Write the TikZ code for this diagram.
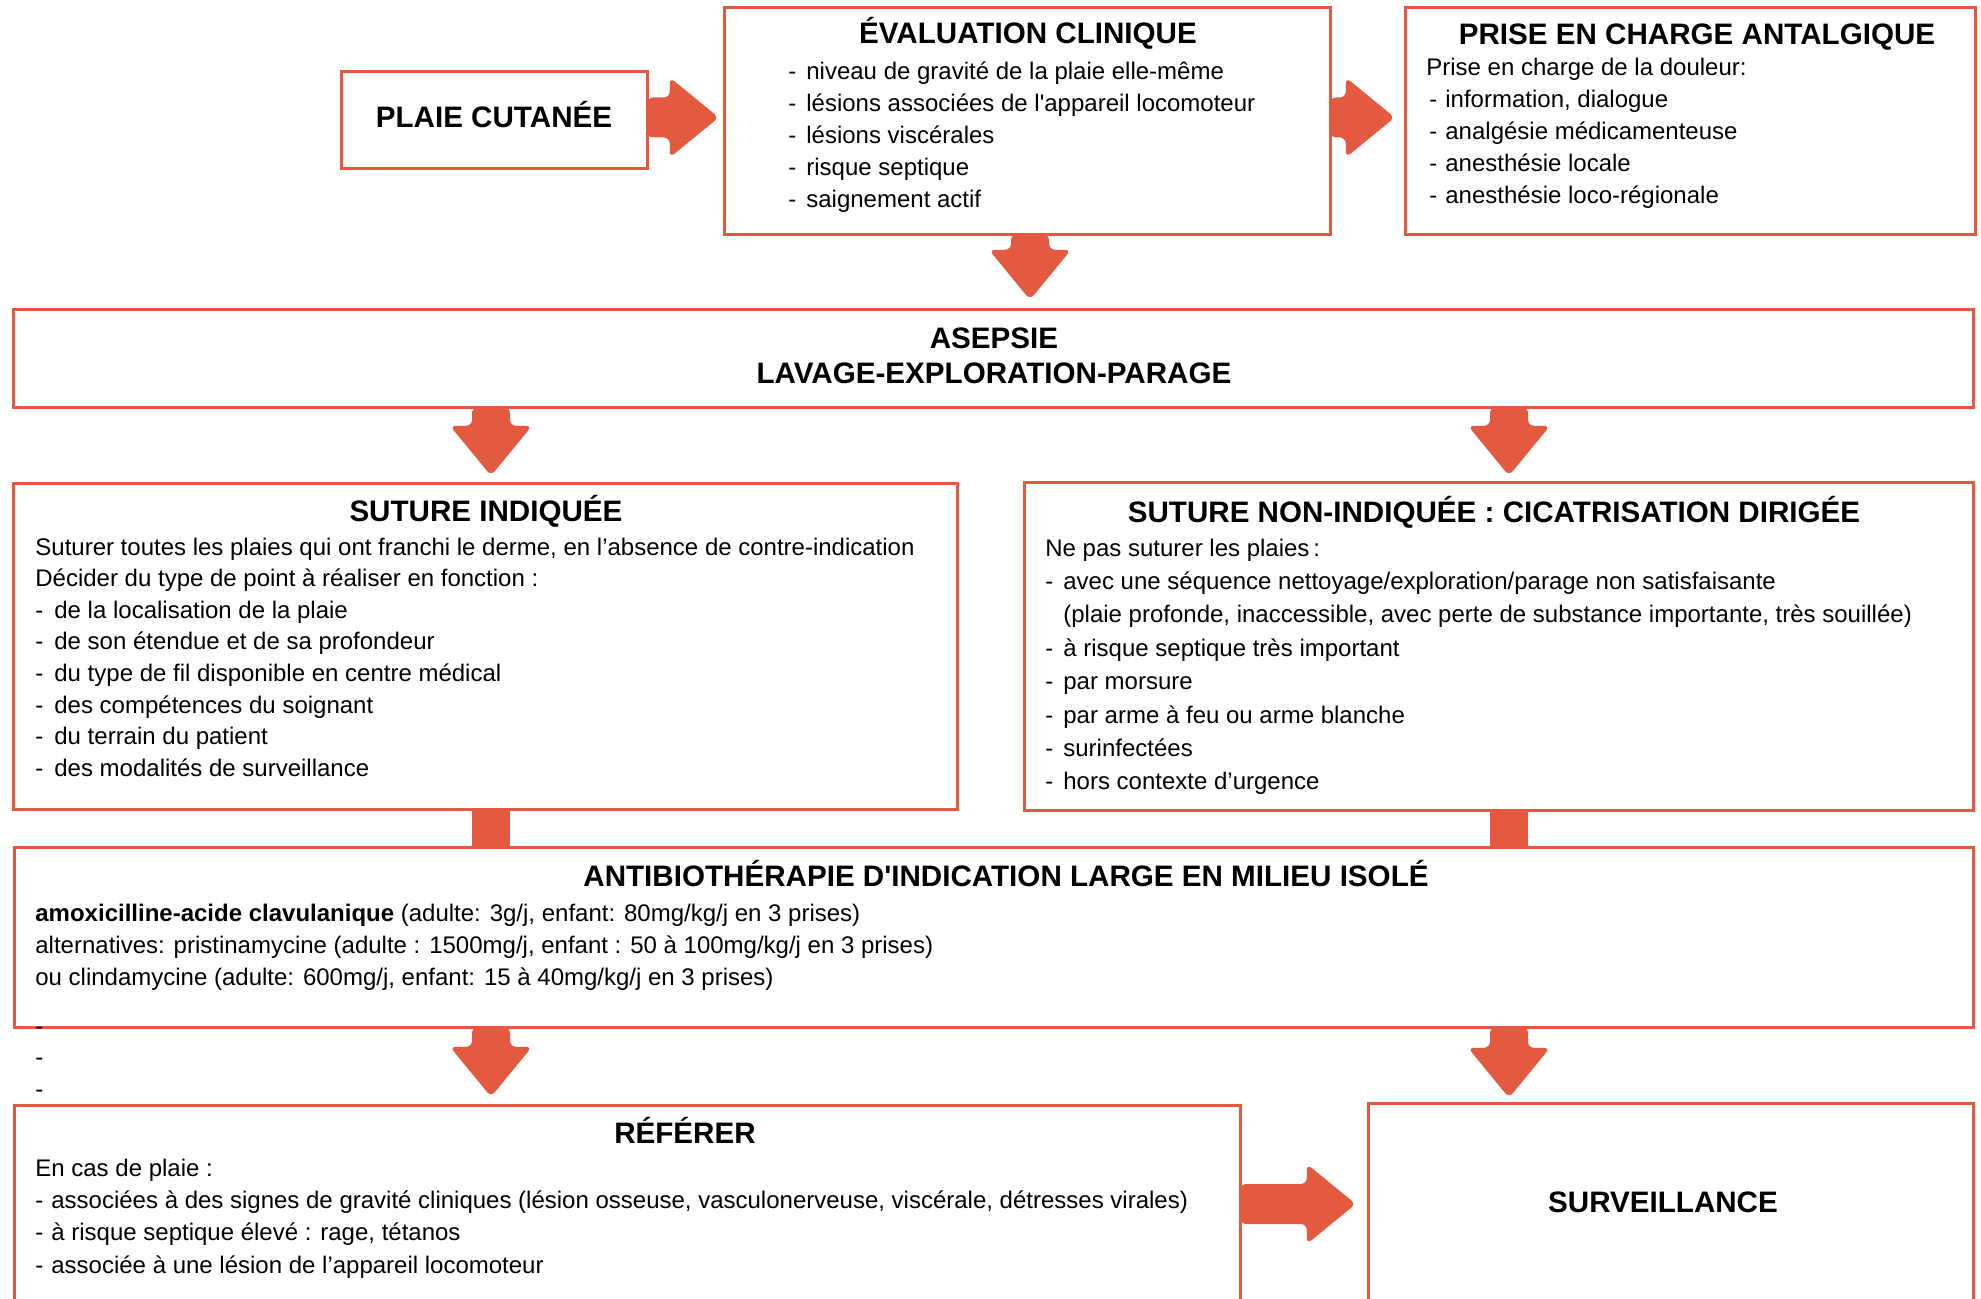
\documentclass[tikz,border=0pt]{standalone}
\usepackage{fontspec}
\setmainfont{Liberation Sans}
\usetikzlibrary{calc,fit}
\definecolor{arr}{HTML}{E45A41}
\newcommand{\fatdown}[2]{\fill[fatarrow] ($(#1)+(-19,-1)$) -- ($(#2)+(-19,-50)$) -- ($(#2)+(-41,-50)$) -- (#2) -- ($(#2)+(41,-50)$) -- ($(#2)+(19,-50)$) -- ($(#1)+(19,-1)$) -- cycle;}
\newcommand{\fatright}[2]{\fill[fatarrow] ($(#1)+(-1,-20)$) -- ($(#2)+(-49,-20)$) -- ($(#2)+(-49,-40)$) -- (#2) -- ($(#2)+(-49,40)$) -- ($(#2)+(-49,20)$) -- ($(#1)+(-1,20)$) -- cycle;}
\newcommand{\fatshaft}[2]{\fill[arr] ($(#1)+(-19,-1)$) rectangle ($(#2)+(19,1)$);}
\newcommand{\dsh}[1]{\makebox[#1][l]{-}}
\begin{document}
\begin{tikzpicture}[x=0.5pt,y=-0.5pt,
  box/.style={draw=arr,line width=1.2pt,inner sep=0pt},
  ttl/.style={font=\fontsize{14.8}{17}\selectfont\bfseries,anchor=base,inner sep=0pt},
  txt/.style={font=\fontsize{12}{14}\selectfont,anchor=base west,inner sep=0pt},
  fatarrow/.style={fill=arr,rounded corners=3pt}]
\useasboundingbox (0,0) rectangle (1981,1299);
\fill[white] (0,0) rectangle (1981,1299);

% boxes
\node[box,fit={(342,72) (647,168)}] (plaie) {};
\node[box,fit={(725,8) (1330,234)}] (eval) {};
\node[box,fit={(1406,8) (1975,234)}] (prise) {};
\node[box,fit={(14,310) (1973,407)}] (asepsie) {};
\node[box,fit={(14,484) (957,809)}] (sutind) {};
\node[box,fit={(1025,483) (1973,810)}] (sutnon) {};
\node[box,fit={(15,848) (1973,1027)}] (antibio) {};
\node[box,fit={(15,1106) (1240,1330)}] (referer) {};
\node[box,fit={(1369,1104) (1973,1330)}] (surv) {};

% connectors
\coordinate (rowA) at (0,117.5);
\coordinate (rowB) at (0,1204);
\coordinate (xE) at (1030,0);
\coordinate (xL) at (491,0);
\coordinate (xR) at (1509,0);

\coordinate (a1s) at (plaie.east |- rowA);
\coordinate (a1t) at ($(eval.west |- rowA)+(-5,0)$);
\fatright{a1s}{a1t}
\coordinate (a2s) at (eval.east |- rowA);
\coordinate (a2t) at ($(prise.west |- rowA)+(-10,0)$);
\fatright{a2s}{a2t}
\coordinate (a3s) at (xE |- eval.south);
\coordinate (a3t) at ($(xE |- asepsie.north)+(0,-9)$);
\fatdown{a3s}{a3t}
\coordinate (a4s) at (xL |- asepsie.south);
\coordinate (a4t) at ($(xL |- sutind.north)+(0,-7)$);
\fatdown{a4s}{a4t}
\coordinate (a5s) at (xR |- asepsie.south);
\coordinate (a5t) at ($(xR |- sutnon.north)+(0,-6)$);
\fatdown{a5s}{a5t}
\coordinate (a6s) at (xL |- sutind.south);
\coordinate (a6t) at (xL |- antibio.north);
\fatshaft{a6s}{a6t}
\coordinate (a7s) at (xR |- sutnon.south);
\coordinate (a7t) at (xR |- antibio.north);
\fatshaft{a7s}{a7t}
\coordinate (a8s) at (xL |- antibio.south);
\coordinate (a8t) at ($(xL |- referer.north)+(0,-8)$);
\fatdown{a8s}{a8t}
\coordinate (a9s) at (xR |- antibio.south);
\coordinate (a9t) at ($(xR |- surv.north)+(0,-5)$);
\fatdown{a9s}{a9t}
\coordinate (a10s) at (referer.east |- rowB);
\coordinate (a10t) at ($(surv.west |- rowB)+(-12,0)$);
\fatright{a10s}{a10t}

% redraw box borders on top
\foreach \b in {plaie,eval,prise,asepsie,sutind,sutnon,antibio,referer,surv}
  \draw[draw=arr,line width=1.2pt] (\b.north west) rectangle (\b.south east);

% titles
\node[ttl] (tPlaie) at (494,128) {PLAIE CUTANÉE};
\node[ttl] (tEval) at (1028,44) {ÉVALUATION CLINIQUE};
\node[ttl] (tPrise) at (1697,45) {PRISE EN CHARGE ANTALGIQUE};
\node[ttl] (tAsep1) at (994,349) {ASEPSIE};
\node[ttl] (tAsep2) at (994,384) {LAVAGE-EXPLORATION-PARAGE};
\node[ttl] (tSutInd) at (486,521) {SUTURE INDIQUÉE};
\node[ttl] (tSutNon) at (1494,523) {SUTURE NON-INDIQUÉE : CICATRISATION DIRIGÉE};
\node[ttl] (tAnti) at (1006,886) {ANTIBIOTHÉRAPIE D\textquotesingle INDICATION LARGE EN MILIEU ISOLÉ};
\node[ttl] (tRef) at (685,1143) {RÉFÉRER};
\node[ttl] (tSurv) at (1663,1212) {SURVEILLANCE};

% evaluation items
\foreach \t [count=\i from 0] in {niveau de gravité de la plaie elle-même,
  lésions associées de l\textquotesingle appareil locomoteur,
  lésions viscérales, risque septique, saignement actif}
  \node[txt] (ev\i) at (788,80+32*\i) {\dsh{9pt}\t};

% prise en charge
\node[txt] (pr) at (1426,76) {Prise en charge de la douleur:};
\foreach \t [count=\i from 1] in {{information, dialogue},
  analgésie médicamenteuse, anesthésie locale, anesthésie loco-régionale}
  \node[txt] (pr\i) at (1429,76+31.8*\i) {\dsh{8pt}\t};

% suture indiquee
\node[txt] (si0) at (35,555) {Suturer toutes les plaies qui ont franchi le derme, en l’absence de contre-indication};
\node[txt] (si1) at (35,586.6) {Décider du type de point à réaliser en fonction :};
\foreach \t [count=\i from 2] in {de la localisation de la plaie,
  de son étendue et de sa profondeur,
  du type de fil disponible en centre médical,
  des compétences du soignant,
  du terrain du patient,
  des modalités de surveillance}
  \node[txt] (si\i) at (35,555+31.6*\i) {\dsh{9.5pt}\t};

% suture non indiquee
\node[txt] (sn0) at (1045,556) {Ne pas suturer les plaies\,:};
\node[txt] (sn1) at (1045,589.4) {\dsh{9pt}avec une séquence nettoyage/exploration/parage non satisfaisante};
\node[txt] (sn2) at (1063,622.8) {(plaie profonde, inaccessible, avec perte de substance importante, très souillée)};
\foreach \t [count=\i from 3] in {à risque septique très important,
  par morsure, par arme à feu ou arme blanche, surinfectées,
  hors contexte d’urgence}
  \node[txt] (sn\i) at (1045,556+33.4*\i) {\dsh{9pt}\t};

% antibiotherapie
\node[txt] (ab1) at (35,921) {\textbf{amoxicilline-acide clavulanique} (adulte: 3g/j, enfant: 80mg/kg/j en 3 prises)};
\node[txt] (ab2) at (35,953) {alternatives: pristinamycine (adulte : 1500mg/j, enfant : 50 à 100mg/kg/j en 3 prises)};
\node[txt] (ab3) at (35,985) {ou clindamycine (adulte: 600mg/j, enfant: 15 à 40mg/kg/j en 3 prises)};
\node[txt] (sd1) at (35,1034) {-};
\node[txt] (sd2) at (35,1065) {-};
\node[txt] (sd3) at (35,1097) {-};

% referer
\node[txt] (rf0) at (35,1176) {En cas de plaie :};
\node[txt] (rf1) at (35,1208.3) {\dsh{8pt}associées à des signes de gravité cliniques (lésion osseuse, vasculonerveuse, viscérale, détresses virales)};
\node[txt] (rf2) at (35,1240.6) {\dsh{8pt}à risque septique élevé : rage, tétanos};
\node[txt] (rf3) at (35,1273) {\dsh{8pt}associée à une lésion de l’appareil locomoteur};
\end{tikzpicture}
\end{document}
